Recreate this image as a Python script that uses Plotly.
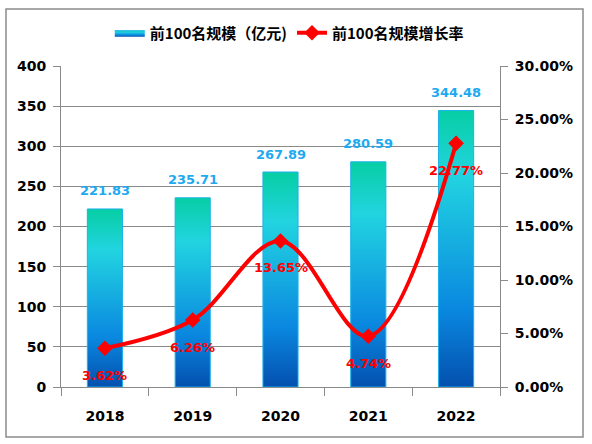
import plotly.graph_objects as go

years = ["2018", "2019", "2020", "2021", "2022"]
scale = [221.83, 235.71, 267.89, 280.59, 344.48]
growth = [3.62, 6.26, 13.65, 4.74, 22.77]
name_scale = "前100名规模（亿元)"
name_growth = "前100名规模增长率"

idx = list(range(len(years)))
bw = 0.4
grid = "#8a8a8a"
tickfont = dict(family="DejaVu Sans", size=14, color="black", weight="bold")

fig = go.Figure()

grad = [[0, "#0450ae"], [0.28, "#0a88e0"], [0.77, "#22d4e0"], [1, "#06cea4"]]
for i, v in zip(idx, scale):
    fig.add_trace(go.Scatter(
        x=[i - bw / 2, i + bw / 2, i + bw / 2, i - bw / 2, i - bw / 2],
        y=[0, 0, v, v, 0],
        mode="lines", fill="toself",
        fillgradient=dict(type="vertical", colorscale=grad),
        line=dict(color="#1ab2ea", width=1),
        name=name_scale, legendgroup="scale", showlegend=(i == 0),
        hoverinfo="skip",
    ))

fig.add_trace(go.Scatter(
    x=idx, y=growth, yaxis="y2", name=name_growth,
    mode="lines+markers",
    line=dict(color="#ff0000", width=4, shape="spline", smoothing=1.0),
    marker=dict(symbol="diamond", size=12, color="#ff0000"),
))

annotations = []
for i, v in zip(idx, scale):
    annotations.append(dict(x=i, y=v, xref="x", yref="y", text=f"{v:.2f}",
                            showarrow=False, yshift=18,
                            font=dict(family="DejaVu Sans", size=13, color="#1ea9f0", weight="bold")))
for i, g in zip(idx, growth):
    annotations.append(dict(x=i, y=g, xref="x", yref="y2", text=f"{g:.2f}%",
                            showarrow=False, yshift=-27,
                            font=dict(family="DejaVu Sans", size=13, color="#ff0000", weight="bold")))

fig.update_layout(
    width=592, height=444,
    margin=dict(l=61, r=92, t=66, b=57),
    paper_bgcolor="white", plot_bgcolor="white",
    showlegend=True,
    legend=dict(orientation="h", x=0.52, xanchor="center", y=1.103, yanchor="middle",
                font=dict(family="Noto Sans CJK SC", size=15, color="black", weight="bold"),
                bgcolor="rgba(0,0,0,0)"),
    xaxis=dict(range=[-0.5, 4.5], tickvals=idx, ticktext=years,
               showgrid=False, zeroline=False, showline=True, linecolor=grid, linewidth=1,
               ticks="outside", ticklen=0, tickcolor=grid, ticklabelstandoff=16,
               minor=dict(tick0=0.5, dtick=1, ticks="outside", ticklen=8, tickcolor=grid, tickwidth=1),
               tickfont=tickfont, fixedrange=True),
    yaxis=dict(range=[0, 400], dtick=50, showgrid=True, gridcolor=grid, gridwidth=1,
               zeroline=False, showline=True, linecolor=grid, linewidth=1,
               ticks="outside", ticklen=7, tickcolor=grid, ticklabelstandoff=4,
               tickfont=tickfont),
    yaxis2=dict(range=[0, 30], dtick=5, overlaying="y", side="right",
                tickformat=".2f", ticksuffix="%", showgrid=False, zeroline=False,
                showline=True, linecolor=grid, linewidth=1,
                ticks="outside", ticklen=7, tickcolor=grid, ticklabelstandoff=4,
                tickfont=tickfont),
    annotations=annotations,
    shapes=[dict(type="rect", xref="paper", yref="paper",
                 x0=(6 - 61) / 439, x1=(583 - 61) / 439,
                 y0=(387 - 437) / 321, y1=(387 - 9) / 321,
                 line=dict(color="#8c8c8c", width=1.5), fillcolor="rgba(0,0,0,0)", layer="below")],
)

fig.write_html("out.html", config={"displayModeBar": False},
               post_script="document.body.style.margin='0';")
